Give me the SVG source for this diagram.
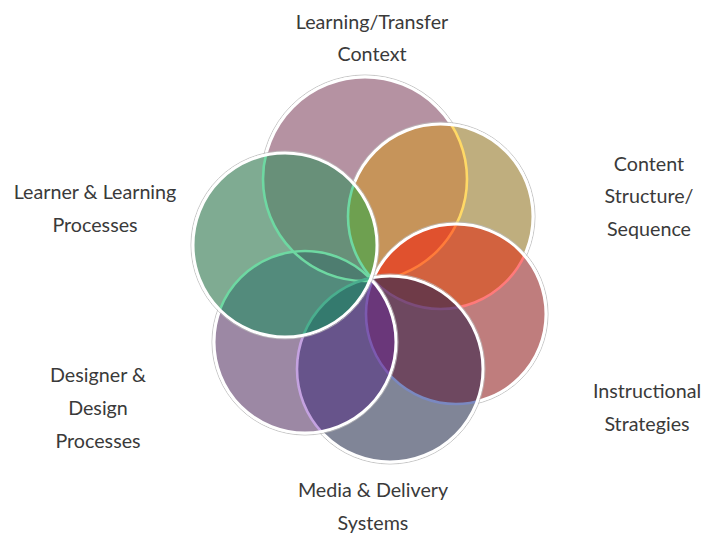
<svg xmlns="http://www.w3.org/2000/svg" width="707" height="537" viewBox="0 0 707 537">
<style>
.lbl{font-family:"Lato","Liberation Sans",sans-serif;font-size:19.7px;fill:#3a3a3a;text-anchor:middle}
.ws{fill:none;stroke:#ffffff;stroke-width:3}
.halo{fill:none;stroke:#b8b8b8;stroke-width:1;stroke-opacity:0.8}
.tl{fill:none;stroke-width:2.6}
</style>
<defs>
<circle id="cT" cx="365" cy="179" r="102"/>
<circle id="cC" cx="440.5" cy="216.5" r="92.5"/>
<circle id="cI" cx="456" cy="314" r="90"/>
<circle id="cM" cx="390" cy="369" r="93"/>
<circle id="cD" cx="305" cy="342" r="91"/>
<circle id="cL" cx="285" cy="245" r="92"/>
<clipPath id="kT"><use href="#cT"/></clipPath>
<clipPath id="kC"><use href="#cC"/></clipPath>
<clipPath id="kI"><use href="#cI"/></clipPath>
<clipPath id="kM"><use href="#cM"/></clipPath>
<clipPath id="kD"><use href="#cD"/></clipPath>
<clipPath id="kL"><use href="#cL"/></clipPath>
</defs>
<rect width="707" height="537" fill="#ffffff"/>

<g id="node-learning-transfer">
<use href="#cT" fill="#B592A2"/>
<circle class="halo" cx="365" cy="179" r="104"/>
<use href="#cT" class="ws"/>
</g>

<g id="node-content">
<use href="#cC" fill="#BFAE7E"/>
<g clip-path="url(#kT)"><use href="#cC" fill="#C6945A"/></g>
<g clip-path="url(#kC)"><use href="#cT" class="tl" stroke="#FFD966"/></g>
<circle class="halo" cx="440.5" cy="216.5" r="94.5"/>
<use href="#cC" class="ws"/>
</g>

<g id="node-instructional">
<use href="#cI" fill="#BF7D7D"/>
<g clip-path="url(#kC)"><use href="#cI" fill="#D2623F"/>
<g clip-path="url(#kT)"><use href="#cI" fill="#E0512E"/></g></g>
<g clip-path="url(#kI)"><use href="#cC" class="tl" stroke="#FF7A7A"/><use href="#cT" class="tl" stroke="#FF7B3A"/></g>
<circle class="halo" cx="456" cy="314" r="92"/>
<use href="#cI" class="ws"/>
</g>

<g id="node-media">
<use href="#cM" fill="#808597"/>
<g clip-path="url(#kI)"><use href="#cM" fill="#6E4860"/>
<g clip-path="url(#kC)"><use href="#cM" fill="#6F3B48"/></g></g>
<g clip-path="url(#kM)"><use href="#cI" class="tl" stroke="#7A88C0"/><use href="#cC" class="tl" stroke="#7C4C7A"/></g>
<circle class="halo" cx="390" cy="369" r="95"/>
<use href="#cM" class="ws"/>
</g>

<g id="node-designer">
<use href="#cD" fill="#9C88A4"/>
<g clip-path="url(#kM)"><use href="#cD" fill="#67548B"/>
<g clip-path="url(#kI)"><use href="#cD" fill="#6A377A"/></g></g>
<g clip-path="url(#kD)"><use href="#cM" class="tl" stroke="#C4A2E0"/>
<g clip-path="url(#kM)"><use href="#cI" class="tl" stroke="#7C5AB0"/></g></g>
<circle class="halo" cx="305" cy="342" r="93"/>
<use href="#cD" class="ws"/>
</g>

<g id="node-learner">
<use href="#cL" fill="#7FAB92"/>
<g clip-path="url(#kT)"><use href="#cL" fill="#689079"/></g>
<g clip-path="url(#kC)"><use href="#cL" fill="#6EA050"/></g>
<g clip-path="url(#kD)"><use href="#cL" fill="#538B7C"/>
<g clip-path="url(#kT)"><use href="#cL" fill="#4E7D70"/></g>
<g clip-path="url(#kM)"><use href="#cL" fill="#347A6E"/></g></g>
<g clip-path="url(#kL)">
<use href="#cT" class="tl" stroke="#6ED8A2"/>
<use href="#cC" class="tl" stroke="#6ED8A2"/>
<use href="#cD" class="tl" stroke="#6ED8A2"/>
<use href="#cM" class="tl" stroke="#4AAE8E"/>
</g>
<circle class="halo" cx="285" cy="245" r="94"/>
<use href="#cL" class="ws"/>
</g>

<g id="connectors"></g>

<g id="labels">
<text class="lbl" x="372" y="29">Learning/Transfer</text>
<text class="lbl" x="372" y="61">Context</text>
<text class="lbl" x="649" y="171">Content</text>
<text class="lbl" x="649" y="203">Structure/</text>
<text class="lbl" x="649" y="236">Sequence</text>
<text class="lbl" x="95" y="199">Learner &amp; Learning</text>
<text class="lbl" x="95" y="232">Processes</text>
<text class="lbl" x="98" y="382">Designer &amp;</text>
<text class="lbl" x="98" y="415">Design</text>
<text class="lbl" x="98" y="448">Processes</text>
<text class="lbl" x="647" y="398">Instructional</text>
<text class="lbl" x="647" y="431">Strategies</text>
<text class="lbl" x="373" y="497">Media &amp; Delivery</text>
<text class="lbl" x="373" y="530">Systems</text>
</g>
</svg>
